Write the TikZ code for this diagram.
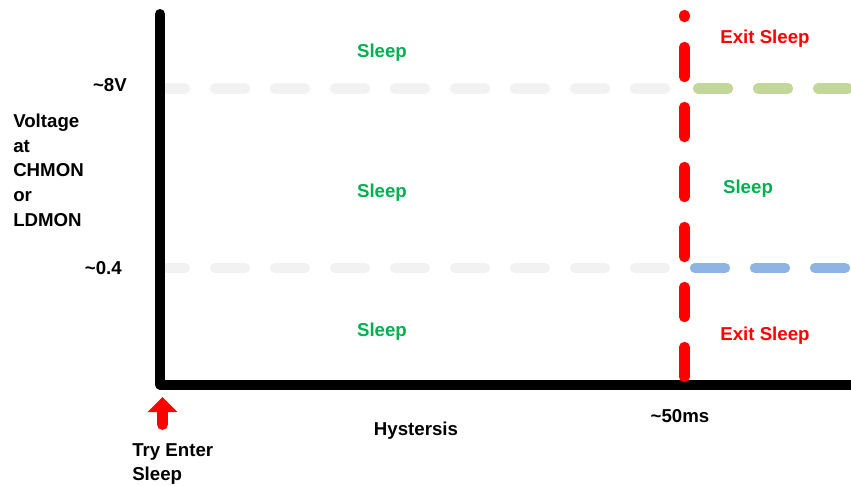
\documentclass[tikz,border=0pt]{standalone}
\usepackage{fontspec}
\setmainfont{Liberation Sans}
\usepackage{xcolor}
\usetikzlibrary{positioning,arrows.meta}
\definecolor{sleepgreen}{HTML}{00B050}
\definecolor{exitred}{HTML}{FF0000}
\definecolor{levelgray}{HTML}{F2F2F2}
\definecolor{highgreen}{HTML}{C4D79B}
\definecolor{lowblue}{HTML}{8EB4E3}

\begin{document}
\begin{tikzpicture}[
  x=0.75pt, y=-0.75pt,
  lbl/.style={inner sep=0pt, font=\fontsize{14}{18.4}\selectfont\bfseries, anchor=base},
  sleeplbl/.style={lbl, text=sleepgreen},
  exitlbl/.style={lbl, text=exitred},
  axis/.style={line width=7.5pt, line cap=round, line join=round},
  level/.style={line width=7.8pt, line cap=round, dash pattern=on 22.5pt off 22.5pt},
  timeout/.style={level, color=exitred},
  enter arrow/.style={exitred, line width=8.25pt, line cap=round,
                      -{Triangle[length=11.25pt, width=21.75pt]}}
]
\useasboundingbox (0,0) rectangle (851,486);
\clip (0,0) rectangle (851,486);

% axes corners and level end points
\coordinate (origin) at (160,384.5);
\coordinate (ytop) at (160,14);
\coordinate (xend) at (870,384.5);
\coordinate (hiL) at (167,88.5);
\coordinate (hiR) at (665,88.5);
\coordinate (loL) at (167,268);
\coordinate (loR) at (665,268);
\coordinate (hiX) at (698,88.5);
\coordinate (hiE) at (880,88.5);
\coordinate (loX) at (695,268);
\coordinate (loE) at (880,268);
\coordinate (tBot) at (684.5,377);
\coordinate (tTop) at (684.5,15);
\coordinate (tryBase) at (162.5,424.5);
\coordinate (tryTip) at (162.5,397);

% threshold levels
\draw[level, levelgray, dash phase=9pt] (hiL) -- (hiR);
\draw[level, levelgray, dash phase=9pt] (loL) -- (loR);
\draw[level, highgreen] (hiX) -- (hiE);
\draw[level, lowblue] (loX) -- (loE);

% axes
\draw[axis] (ytop) -- (origin) -- (xend);

% 50 ms timeout
\draw[timeout] (tBot) -- (tTop);

% labels
\node[sleeplbl] (sleepHi) at (382,57) {Sleep};
\node[sleeplbl] (sleepMid) at (382,197) {Sleep};
\node[sleeplbl] (sleepLo) at (382,336) {Sleep};
\node[sleeplbl] (sleepAfter) at (748,193) {Sleep};
\node[exitlbl] (exitHi) at (765,43) {Exit Sleep};
\node[exitlbl] (exitLo) at (765,340) {Exit Sleep};
\node[lbl, anchor=base east] (vHi) at (127,91) {\textasciitilde8V};
\node[lbl, anchor=base east] (vLo) at (122,274) {\textasciitilde0.4};
\node[lbl, anchor=base west, align=left] (ylabel) at (13,226)
  {Voltage\\at\\CHMON\\or\\LDMON};
\node[lbl] (hyst) at (416,435) {Hystersis};
\node[lbl] (t50) at (680,422) {\textasciitilde50ms};
\node[lbl, anchor=base west, align=left,
      font=\fontsize{14}{18}\selectfont\bfseries] (tryEnter) at (132,480)
  {Try Enter\\Sleep};

\draw[enter arrow] (tryBase) -- (tryTip);
\end{tikzpicture}
\end{document}
